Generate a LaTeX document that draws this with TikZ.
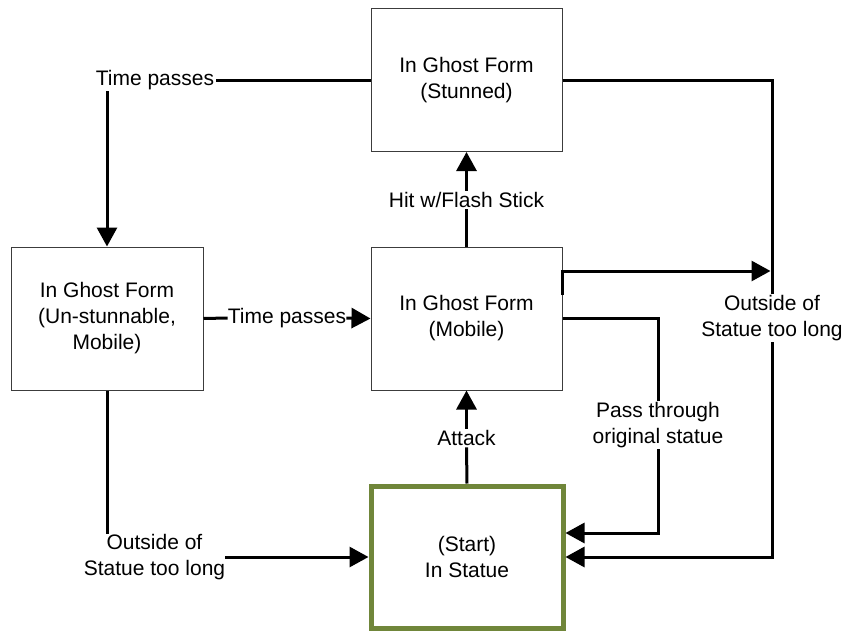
\documentclass[tikz,border=0pt]{standalone}
\usepackage{fontspec}
\setmainfont{Liberation Sans}
\usetikzlibrary{arrows.meta}
\definecolor{boxline}{RGB}{60,60,60}
\definecolor{startgreen}{RGB}{112,134,58}
\begin{document}
\begin{tikzpicture}[x=1pt,y=-1pt,
  every node/.style={font=\fontsize{21}{26}\selectfont},
  state/.style={draw=boxline,line width=1pt,fill=white,align=center,
    minimum width=191pt,minimum height=143pt,inner sep=0pt},
  startstate/.style={state,draw=startgreen,line width=5pt,minimum width=192pt,minimum height=142pt},
  lbl/.style={align=center,inner sep=1.5pt},
  conn/.style={line width=3pt,draw=black},
  arr/.style={conn,-{Triangle[length=19pt,width=20pt]}}]
\useasboundingbox (0,0) rectangle (847,632);

% states
\node[state] (stunned) at (466.5,80) {In Ghost Form\\(Stunned)};
\node[state] (mobile) at (466.5,318.5) {In Ghost Form\\(Mobile)};
\node[state,minimum width=192pt] (unstun) at (107,318.5) {In Ghost Form\\(Un-stunnable,\\Mobile)};
\node[startstate] (start) at (467,557) {(Start)\\In Statue};

% transition labels
\node[lbl] (tpA) at (155,80) {Time passes};
\node[lbl,inner sep=0pt] (tpB) at (287,318) {Time passes};
\node[lbl] (hit) at (466.5,200) {Hit w/Flash Stick};
\node[lbl] (outR) at (772,318) {Outside of\\Statue too long};
\node[lbl] (pass) at (658,425) {Pass through\\original statue};
\node[lbl,inner sep=0pt] (outL) at (154.5,557) {Outside of\\Statue too long};
\node[lbl] (attack) at (466.5,438) {Attack};

\coordinate (rjoin) at (772,271);

% stunned -> un-stunnable
\draw[conn] (stunned.west) -- (tpA.east);
\draw[arr] (tpA.south -| unstun.north) -- (unstun.north);

% un-stunnable -> mobile
\draw[conn] (unstun.east) -- (tpB.west);
\draw[arr] (tpB.east) -- (mobile.west);

% mobile -> stunned
\draw[conn] (mobile.north) -- (hit.south);
\draw[arr] (hit.north) -- (stunned.south);

% start -> mobile
\draw[conn] (start.north) -- (attack.south);
\draw[arr] (attack.north) -- (mobile.south);

% stunned -> start (outside of statue too long)
\draw[conn] (stunned.east) -| (outR.north);
\draw[arr] (outR.south) |- (start.east);

% mobile joins the same transition
\draw[arr] ([yshift=23.5pt]mobile.east) -- ([yshift=47.5pt]mobile.east) -- ([xshift=-1.5pt]rjoin);

% mobile -> start (pass through original statue)
\draw[conn] (mobile.east) -| (pass.north);
\draw[arr] (pass.south) |- ([yshift=24pt]start.east);

% un-stunnable -> start (outside of statue too long)
\draw[conn] (unstun.south) -- (unstun.south |- outL.north);
\draw[arr] (outL.east) -- (start.west);
\end{tikzpicture}
\end{document}
